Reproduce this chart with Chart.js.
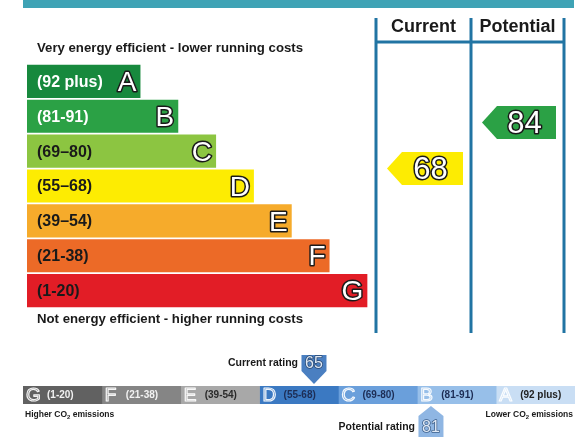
<!DOCTYPE html>
<html>
<head>
<meta charset="utf-8">
<script src="https://cdn.jsdelivr.net/npm/chart.js@4.4.1/dist/chart.umd.min.js"></script>
<style>
    html, body { margin: 0; padding: 0; background: #fff; }
    #wrap { position: relative; width: 588px; height: 448px; overflow: hidden; }
    #epcChart { position: absolute; left: 0; top: 0; }
    #co2Chart { position: absolute; left: 0; top: 340px; }
</style>
</head>
<body>
<div id="wrap">
    <canvas id="epcChart" width="588" height="340" style="width:588px;height:340px"></canvas>
    <canvas id="co2Chart" width="588" height="108" style="width:588px;height:108px"></canvas>
</div>
<script>
// Energy efficiency bands (top panel)
const bands = ['A', 'B', 'C', 'D', 'E', 'F', 'G'];
const bandRanges = ['(92 plus)', '(81-91)', '(69\u201380)', '(55\u201368)', '(39\u201354)', '(21-38)', '(1-20)'];
const bandMins = [92, 81, 69, 55, 39, 21, 1];
const barLengths = [3, 4, 5, 6, 7, 8, 9];
const currentRating = 68;
const potentialRating = 84;

// CO2 strip (bottom panel), worst to best
const co2Bands = ['G', 'F', 'E', 'D', 'C', 'B', 'A'];
const co2Ranges = ['(1-20)', '(21-38)', '(39-54)', '(55-68)', '(69-80)', '(81-91)', '(92 plus)'];
const co2Current = 65;
const co2Potential = 81;

const bandColours = ['#17893d', '#2ba145', '#8cc541', '#fdec02', '#f6ab2b', '#ec6a27', '#e21d26'];
const bandTextColours = ['#ffffff', '#ffffff', '#1a1a1a', '#1a1a1a', '#1a1a1a', '#1a1a1a', '#1a1a1a'];
const co2Colours = ['#616161', '#858585', '#a8a8a8', '#3b79c2', '#6a9fdb', '#97bfe9', '#c9def4'];
const co2TextColours = ['#f2f2f2', '#f2f2f2', '#2a2a2a', '#1d2d55', '#1d2d55', '#1d2d55', '#222222'];

const FONT = '"Liberation Sans", Arial, sans-serif';
const DARK = '#1a1a1a';
const LINE = '#2174a3';
const columnX = [376, 471, 564];

function outlined(ctx, text, x, y, fill, stroke, lw) {
    ctx.lineJoin = 'round';
    ctx.lineWidth = lw;
    ctx.strokeStyle = stroke;
    ctx.strokeText(text, x, y);
    if (fill) {
        ctx.fillStyle = fill;
        ctx.fillText(text, x, y);
    }
}

function bandFor(rating) {
    return bandMins.findIndex(m => rating >= m);
}

function drawPointer(ctx, tipX, bodyX, rightX, cy, h, colour) {
    ctx.beginPath();
    ctx.moveTo(tipX, cy);
    ctx.lineTo(bodyX, cy - h / 2);
    ctx.lineTo(rightX, cy - h / 2);
    ctx.lineTo(rightX, cy + h / 2);
    ctx.lineTo(bodyX, cy + h / 2);
    ctx.closePath();
    ctx.fillStyle = colour;
    ctx.fill();
}

// co2 text with a small subscript 2
function co2Text(ctx, before, after, x, y, size, align) {
    ctx.font = 'bold ' + size + 'px ' + FONT;
    const w1 = ctx.measureText(before).width;
    const w3 = ctx.measureText(after).width;
    ctx.font = 'bold ' + (size * 0.7) + 'px ' + FONT;
    const w2 = ctx.measureText('2').width;
    let start = align === 'right' ? x - (w1 + w2 + w3) : x;
    ctx.textAlign = 'left';
    ctx.textBaseline = 'alphabetic';
    ctx.fillStyle = DARK;
    ctx.font = 'bold ' + size + 'px ' + FONT;
    ctx.fillText(before, start, y);
    ctx.font = 'bold ' + (size * 0.7) + 'px ' + FONT;
    ctx.fillText('2', start + w1, y + size * 0.25);
    ctx.font = 'bold ' + size + 'px ' + FONT;
    ctx.fillText(after, start + w1 + w2, y);
}

const epcDecor = {
    id: 'epcDecor',
    beforeDatasetsDraw(chart) {
        const ctx = chart.ctx;
        ctx.save();
        // teal header strip
        ctx.fillStyle = '#3fa3b5';
        ctx.fillRect(23, 0, 551, 8);
        // column frame
        ctx.strokeStyle = LINE;
        ctx.lineWidth = 3;
        ctx.beginPath();
        columnX.forEach(x => { ctx.moveTo(x, 18); ctx.lineTo(x, 333); });
        ctx.moveTo(columnX[0], 42);
        ctx.lineTo(columnX[2], 42);
        ctx.stroke();
        ctx.fillStyle = DARK;
        ctx.font = 'bold 18px ' + FONT;
        ctx.textAlign = 'center';
        ctx.textBaseline = 'middle';
        ctx.fillText('Current', (columnX[0] + columnX[1]) / 2, 27);
        ctx.fillText('Potential', (columnX[1] + columnX[2]) / 2, 27);
        ctx.restore();
    },
    afterDatasetsDraw(chart) {
        const ctx = chart.ctx;
        const ry = chart.scales.ry;
        const meta = chart.getDatasetMeta(0);
        ctx.save();
        ctx.textBaseline = 'middle';
        meta.data.forEach((bar, i) => {
            ctx.textAlign = 'left';
            ctx.font = 'bold 16px ' + FONT;
            ctx.fillStyle = bandTextColours[i];
            ctx.fillText(bandRanges[i], bar.base + 10, bar.y + 1);
            ctx.textAlign = 'right';
            ctx.font = '28px ' + FONT;
            outlined(ctx, bands[i], bar.x - 4, bar.y + 2, '#ffffff', DARK, 3);
        });
        ctx.textAlign = 'left';
        ctx.fillStyle = DARK;
        ctx.font = 'bold 13.2px ' + FONT;
        ctx.fillText('Very energy efficient - lower running costs', 37, 48);
        ctx.fillText('Not energy efficient - higher running costs', 37, 319);

        // rating pointers
        [[currentRating, 0], [potentialRating, 1]].forEach(([rating, col]) => {
            const cy = ry.getPixelForValue(rating);
            const left = columnX[col] + 11;
            const right = columnX[col + 1] - 8;
            drawPointer(ctx, left, left + 15, right, cy, 33, bandColours[bandFor(rating)]);
            ctx.font = '31px ' + FONT;
            ctx.textAlign = 'center';
            outlined(ctx, String(rating), (left + 15 + right) / 2 - 2, cy + 2, '#ffffff', DARK, 3);
        });
        ctx.restore();
    }
};

new Chart(document.getElementById('epcChart'), {
    type: 'bar',
    data: {
        labels: bands,
        datasets: [{
            data: barLengths,
            backgroundColor: bandColours,
            borderWidth: 0,
            barPercentage: 0.95,
            categoryPercentage: 1
        }]
    },
    options: {
        indexAxis: 'y',
        responsive: false,
        animation: false,
        layout: { padding: { left: 27, right: 24, top: 64, bottom: 32 } },
        plugins: { legend: { display: false }, tooltip: { enabled: false } },
        scales: {
            x: { display: false, min: 0, max: 14.2 },
            y: { display: false },
            // rating scale for the pointers (no category offset)
            ry: { axis: 'y', type: 'linear', display: false, offset: false, min: 19.5, max: 104.35 }
        }
    },
    plugins: [epcDecor]
});

const co2Decor = {
    id: 'co2Decor',
    afterDatasetsDraw(chart) {
        const ctx = chart.ctx;
        const rx = chart.scales.rx;
        const area = chart.chartArea;
        ctx.save();
        ctx.textBaseline = 'middle';
        co2Bands.forEach((b, i) => {
            const seg = chart.getDatasetMeta(i).data[0];
            const x0 = Math.min(seg.x, seg.base);
            ctx.textAlign = 'left';
            ctx.font = '19px ' + FONT;
            outlined(ctx, b, x0 + 3, seg.y + 1, null, 'rgba(255,255,255,0.92)', 1.2);
            ctx.font = 'bold 10px ' + FONT;
            ctx.fillStyle = co2TextColours[i];
            ctx.fillText(co2Ranges[i], x0 + 24, seg.y);
        });

        // current rating marker (above, pointing down)
        let x = rx.getPixelForValue(co2Current);
        ctx.beginPath();
        ctx.moveTo(x - 12.5, 15);
        ctx.lineTo(x + 12.5, 15);
        ctx.lineTo(x + 12.5, 31);
        ctx.lineTo(x, area.top - 2);
        ctx.lineTo(x - 12.5, 31);
        ctx.closePath();
        ctx.fillStyle = '#4a7fc1';
        ctx.fill();
        ctx.textAlign = 'center';
        ctx.font = '16px ' + FONT;
        outlined(ctx, String(co2Current), x, 24, '#dfe9f6', '#27466f', 1.5);
        ctx.textAlign = 'right';
        ctx.fillStyle = DARK;
        ctx.font = 'bold 10.5px ' + FONT;
        ctx.fillText('Current rating', x - 16, 23);

        // potential rating marker (below, pointing up)
        x = rx.getPixelForValue(co2Potential);
        ctx.beginPath();
        ctx.moveTo(x, area.bottom + 2);
        ctx.lineTo(x + 12.5, 76);
        ctx.lineTo(x + 12.5, 97);
        ctx.lineTo(x - 12.5, 97);
        ctx.lineTo(x - 12.5, 76);
        ctx.closePath();
        ctx.fillStyle = '#8fb6e3';
        ctx.fill();
        ctx.textAlign = 'center';
        ctx.font = '16px ' + FONT;
        outlined(ctx, String(co2Potential), x, 88, '#dfe9f6', '#3d5f8a', 1.5);
        ctx.textAlign = 'right';
        ctx.fillStyle = DARK;
        ctx.font = 'bold 10.5px ' + FONT;
        ctx.fillText('Potential rating', x - 16, 87);

        co2Text(ctx, 'Higher CO', ' emissions', 25, 77, 8.5, 'left');
        co2Text(ctx, 'Lower CO', ' emissions', 573, 77, 8.5, 'right');
        ctx.restore();
    }
};

new Chart(document.getElementById('co2Chart'), {
    type: 'bar',
    data: {
        labels: ['CO2'],
        datasets: co2Bands.map((b, i) => ({
            label: b,
            data: [1],
            backgroundColor: co2Colours[i],
            borderWidth: 0,
            barPercentage: 1,
            categoryPercentage: 1
        }))
    },
    options: {
        indexAxis: 'y',
        responsive: false,
        animation: false,
        layout: { padding: { left: 23, right: 13, top: 46, bottom: 44 } },
        plugins: { legend: { display: false }, tooltip: { enabled: false } },
        scales: {
            x: { display: false, stacked: true, min: 0, max: 7 },
            y: { display: false, stacked: true },
            rx: { axis: 'x', type: 'linear', display: false, offset: false, min: 25.2, max: 100.7 }
        }
    },
    plugins: [co2Decor]
});
</script>
</body>
</html>
